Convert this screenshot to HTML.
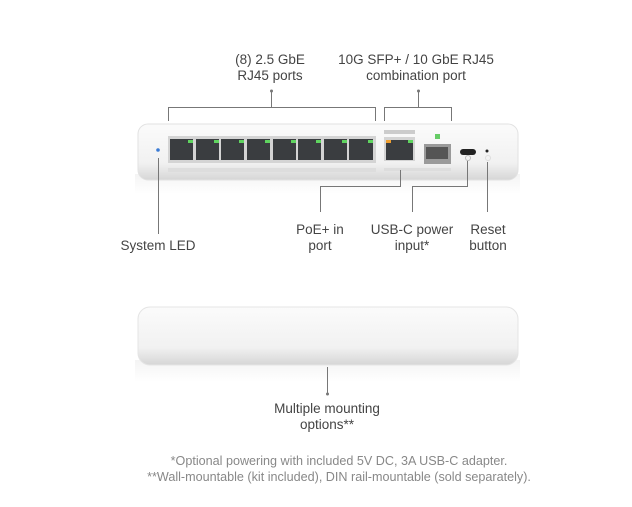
<!DOCTYPE html>
<html><head><meta charset="utf-8"><style>
html,body{margin:0;padding:0;background:#fff;}
svg{display:block;}
text{font-family:"Liberation Sans",sans-serif;}
</style></head><body>
<svg width="632" height="507" viewBox="0 0 632 507" xmlns="http://www.w3.org/2000/svg">
<defs>
<linearGradient id="body" x1="0" y1="0" x2="0" y2="1">
<stop offset="0" stop-color="#fbfbfb"/><stop offset="0.7" stop-color="#f1f1f1"/><stop offset="1" stop-color="#d6d6d6"/>
</linearGradient>
<linearGradient id="refl" x1="0" y1="0" x2="0" y2="1">
<stop offset="0" stop-color="#e6e6e6"/><stop offset="1" stop-color="#ffffff"/>
</linearGradient>
</defs>
<g fill="#444" font-size="13.5" text-anchor="middle">
<text x="270" y="64">(8) 2.5 GbE</text>
<text x="270" y="80">RJ45 ports</text>
<text x="416" y="64">10G SFP+ / 10 GbE RJ45</text>
<text x="416" y="80">combination port</text>
<text x="158" y="250">System LED</text>
<text x="320" y="234">PoE+ in</text>
<text x="320" y="250">port</text>
<text x="412" y="234">USB-C power</text>
<text x="412" y="250">input*</text>
<text x="488" y="234">Reset</text>
<text x="488" y="250">button</text>
<text x="327" y="413">Multiple mounting</text>
<text x="327" y="429">options**</text>
</g>
<g fill="#888" font-size="12.6" text-anchor="middle">
<text x="339" y="465">*Optional powering with included 5V DC, 3A USB-C adapter.</text>
<text x="339" y="481">**Wall-mountable (kit included), DIN rail-mountable (sold separately).</text>
</g>
<!-- top device -->
<rect x="135" y="174" width="385" height="20" fill="url(#refl)" opacity="0.45"/>
<rect x="138" y="124" width="380" height="56" rx="10" fill="url(#body)" stroke="#e2e2e2"/>
<rect x="168" y="136" width="208" height="27" fill="#d4d4d4"/>
<g fill="#3a3d40">
<rect x="170" y="139" width="23" height="21"/><rect x="196" y="139" width="23" height="21"/>
<rect x="221" y="139" width="23" height="21"/><rect x="247" y="139" width="23" height="21"/>
<rect x="273" y="139" width="23" height="21"/><rect x="298" y="139" width="23" height="21"/>
<rect x="324" y="139" width="23" height="21"/><rect x="349" y="139" width="24" height="21"/>
</g>
<g fill="#5fd45f">
<rect x="188" y="140" width="5" height="3"/><rect x="214" y="140" width="5" height="3"/>
<rect x="239" y="140" width="5" height="3"/><rect x="265" y="140" width="5" height="3"/>
<rect x="291" y="140" width="5" height="3"/><rect x="316" y="140" width="5" height="3"/>
<rect x="342" y="140" width="5" height="3"/><rect x="368" y="140" width="5" height="3"/>
</g>
<rect x="168" y="168" width="208" height="4" fill="#ddd"/>
<rect x="384" y="130" width="31" height="4" fill="#ccc"/>
<rect x="384" y="137" width="31" height="24" fill="#d4d4d4"/>
<rect x="386" y="140" width="27" height="20" fill="#3a3d40"/>
<rect x="386" y="140" width="5" height="3" fill="#f0a030"/>
<rect x="408" y="140" width="5" height="3" fill="#5fd45f"/>
<rect x="384" y="168" width="67" height="3" fill="#ddd"/>
<rect x="435" y="134" width="5" height="5" fill="#6c6"/>
<rect x="424" y="144" width="27" height="20" fill="#9a9a9a"/>
<rect x="426" y="147" width="22" height="12" fill="#555"/>
<rect x="460" y="149" width="16" height="6" rx="3" fill="#222"/>
<circle cx="487" cy="151" r="1.5" fill="#222"/>
<circle cx="468" cy="158" r="2.5" fill="none" stroke="#bbb"/>
<circle cx="488" cy="158" r="2.5" fill="none" stroke="#ddd"/>
<circle cx="158" cy="150" r="1.8" fill="#3a7bd5"/>
<!-- bottom device -->
<rect x="135" y="360" width="385" height="22" fill="url(#refl)" opacity="0.45"/>
<rect x="138" y="307" width="380" height="58" rx="12" fill="url(#body)" stroke="#e4e4e4"/>
<!-- connector lines -->
<g stroke="#777" stroke-width="1" fill="none">
<path d="M168.5 121 V107.5 H375.5 V121"/><path d="M271.5 107 V91"/>
<path d="M384.5 121 V107.5 H451.5 V121"/><path d="M418.5 107 V91"/>
<path d="M158.5 158 V234"/>
<path d="M400.5 170 V186.5 H320.5 V212"/>
<path d="M467.5 161 V186.5 H412.5 V212"/>
<path d="M487.5 162 V212"/>
<path d="M327.5 367 V393"/>
</g>
<g fill="#777">
<circle cx="271.5" cy="91" r="1.5"/><circle cx="418.5" cy="91" r="1.5"/>
<circle cx="327.5" cy="394" r="1.5"/>
</g>
</svg>
</body></html>
